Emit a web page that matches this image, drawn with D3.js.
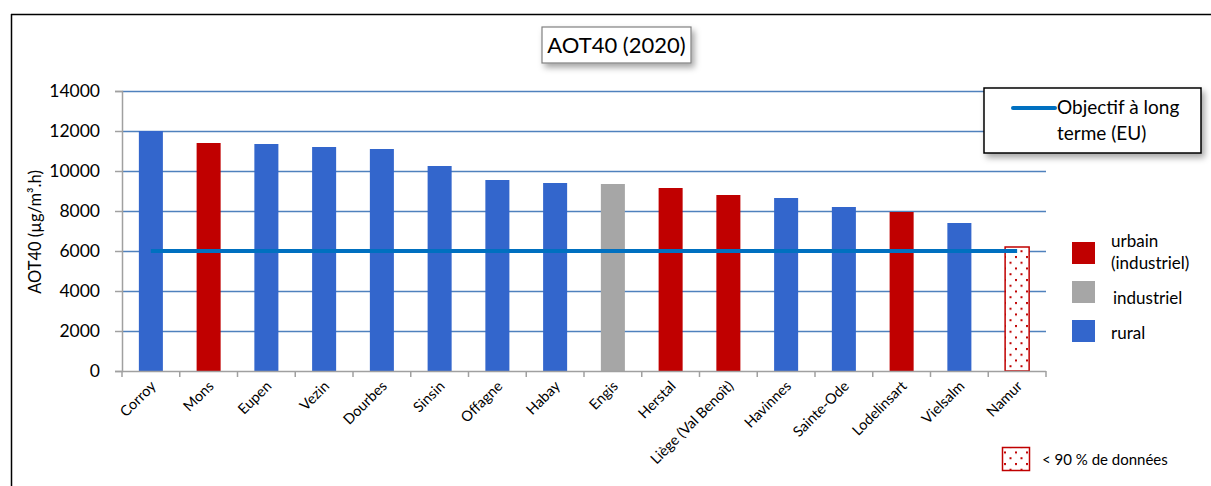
<!DOCTYPE html>
<html><head><meta charset="utf-8">
<script src="https://cdn.jsdelivr.net/npm/d3@7"></script>
<style>
body{margin:0;background:#fff;}
text{font-family:Lato,"Open Sans",sans-serif;fill:#000;}
</style></head>
<body>
<svg id="chart" width="1211" height="486"></svg>
<script>
const categories = ["Corroy","Mons","Eupen","Vezin","Dourbes","Sinsin","Offagne","Habay","Engis","Herstal","Liège (Val Benoît)","Havinnes","Sainte-Ode","Lodelinsart","Vielsalm","Namur"];
const values = [12000,11400,11350,11200,11100,10250,9550,9400,9350,9150,8800,8650,8200,7950,7400,6200];
const types = ["rural","urbain","rural","rural","rural","rural","rural","rural","industriel","urbain","urbain","rural","rural","urbain","rural","partial"];
const yTicks = [0,2000,4000,6000,8000,10000,12000,14000];
const objective = 6000;
const legendTypes = ["urbain","industriel","rural"];
const legendLabels = [["urbain","(industriel)"],["industriel"],["rural"]];

(function(){
const colors = {rural:"#3366CC", urbain:"#C00000", industriel:"#A6A6A6"};

const svg = d3.select("#chart");
const defs = svg.append("defs");
const pat = defs.append("pattern").attr("id","dots").attr("patternUnits","userSpaceOnUse")
  .attr("width",11).attr("height",11.5).attr("x",1).attr("y",2);
pat.append("rect").attr("width",11).attr("height",11.5).attr("fill","#fff");
pat.append("rect").attr("x",2).attr("y",1).attr("width",2).attr("height",2).attr("fill","#C00000");
pat.append("rect").attr("x",7.5).attr("y",6.75).attr("width",2).attr("height",2).attr("fill","#C00000");
const filt = defs.append("filter").attr("id","shadow").attr("x","-20%").attr("y","-20%").attr("width","150%").attr("height","160%");
filt.append("feDropShadow").attr("dx",3).attr("dy",4).attr("stdDeviation",3).attr("flood-color","#000").attr("flood-opacity",0.35);

// outer frame
svg.append("line").attr("x1",11).attr("x2",1211).attr("y1",14.5).attr("y2",14.5).attr("stroke","#000").attr("stroke-width",1.5);
svg.append("line").attr("x1",11.5).attr("x2",11.5).attr("y1",14).attr("y2",486).attr("stroke","#000").attr("stroke-width",1.5);

const pLeft=122, pRight=1046, pTop=91, pBottom=371;
const x = d3.scaleBand().domain(categories).range([pLeft,pRight]).paddingInner(0.584).paddingOuter(0.292);
const y = d3.scaleLinear().domain([0,14000]).range([pBottom,pTop]);

// gridlines
svg.append("g").selectAll("line").data(yTicks.filter(d=>d>0)).join("line")
  .attr("x1",pLeft).attr("x2",pRight).attr("y1",d=>y(d)+0.5).attr("y2",d=>y(d)+0.5)
  .attr("stroke","#4F81BD").attr("stroke-width",1.3);

// bars
svg.append("g").selectAll("rect").data(categories).join("rect")
  .attr("x",d=>x(d)).attr("width",x.bandwidth())
  .attr("y",(d,i)=>y(values[i])).attr("height",(d,i)=>pBottom-y(values[i]))
  .attr("fill",(d,i)=>types[i]==="partial"?"url(#dots)":colors[types[i]])
  .attr("stroke",(d,i)=>types[i]==="partial"?"#C00000":"none")
  .attr("stroke-width",1.5);

// y axis
const yAxis = d3.axisLeft(y).tickValues(yTicks).tickSize(7).tickPadding(15).tickFormat(d3.format("d"));
const ga = svg.append("g").attr("transform",`translate(${pLeft},0)`).call(yAxis);
ga.select(".domain").attr("stroke","#A0A0A0").attr("stroke-width",1.5);
ga.selectAll(".tick line").attr("stroke","#A0A0A0").attr("stroke-width",1.5);
ga.selectAll(".tick text").style("font-size","17.5px").style("font-family","Lato,sans-serif");

// x axis
const bounds = categories.map(c=>x(c)-x.step()*x.paddingInner()/2);
bounds.push(pRight);
svg.append("line").attr("x1",pLeft).attr("x2",pRight).attr("y1",pBottom+0.5).attr("y2",pBottom+0.5).attr("stroke","#A0A0A0").attr("stroke-width",1.5);
svg.append("g").selectAll("line").data(bounds).join("line")
  .attr("x1",d=>d).attr("x2",d=>d).attr("y1",pBottom).attr("y2",pBottom+6).attr("stroke","#A0A0A0").attr("stroke-width",1.5);
svg.append("g").selectAll("text").data(categories).join("text")
  .attr("transform",d=>`translate(${x(d)+x.bandwidth()/2+6},${pBottom+16}) rotate(-45)`)
  .attr("text-anchor","end").style("font-size","14.5px").text(d=>d);

// objective line
const cx = c=>x(c)+x.bandwidth()/2;
svg.append("line").attr("x1",cx(categories[0])).attr("x2",cx(categories[categories.length-1]))
  .attr("y1",y(objective)).attr("y2",y(objective)).attr("stroke","#0070C0").attr("stroke-width",4);

// y label
svg.append("text").attr("transform",`translate(41,232) rotate(-90)`)
  .attr("text-anchor","middle").style("font-size","16.5px").text("AOT40 (µg/m³.h)");

// title box
svg.append("rect").attr("x",542).attr("y",27).attr("width",149).attr("height",36)
  .attr("fill","#fff").attr("stroke","#808080").attr("stroke-width",1.2).attr("filter","url(#shadow)");
svg.append("text").attr("x",616.5).attr("y",52.5).attr("text-anchor","middle").style("font-size","22px").text("AOT40 (2020)");

// objective legend box
svg.append("rect").attr("x",984).attr("y",88).attr("width",217).attr("height",65)
  .attr("fill","#fff").attr("stroke","#000").attr("stroke-width",1.5).attr("filter","url(#shadow)");
svg.append("line").attr("x1",1013).attr("x2",1055).attr("y1",108).attr("y2",108).attr("stroke","#0070C0").attr("stroke-width",4).attr("stroke-linecap","round");
svg.append("text").attr("x",1057).attr("y",114).style("font-size","19px").text("Objectif à long");
svg.append("text").attr("x",1057).attr("y",140).style("font-size","19px").text("terme (EU)");

// type legend
const ly = [242,281,320];
const lg = svg.append("g");
legendTypes.forEach((t,i)=>{
  lg.append("rect").attr("x",1072).attr("y",ly[i]).attr("width",23).attr("height",22).attr("fill",colors[t]);
});
lg.append("text").attr("x",1111).attr("y",247).style("font-size","17px").text(legendLabels[0][0]);
lg.append("text").attr("x",1111).attr("y",269).style("font-size","17px").text(legendLabels[0][1]);
lg.append("text").attr("x",1113).attr("y",304).style("font-size","17px").text(legendLabels[1][0]);
lg.append("text").attr("x",1111).attr("y",339).style("font-size","17px").text(legendLabels[2][0]);

// partial data legend
svg.append("rect").attr("x",1002.5).attr("y",447.5).attr("width",27).attr("height",23)
  .attr("fill","url(#dots)").attr("stroke","#C00000").attr("stroke-width",1.5);
svg.append("text").attr("x",1042).attr("y",465).style("font-size",
"15px").text("< 90 % de données");
})();
</script>
</body></html>
